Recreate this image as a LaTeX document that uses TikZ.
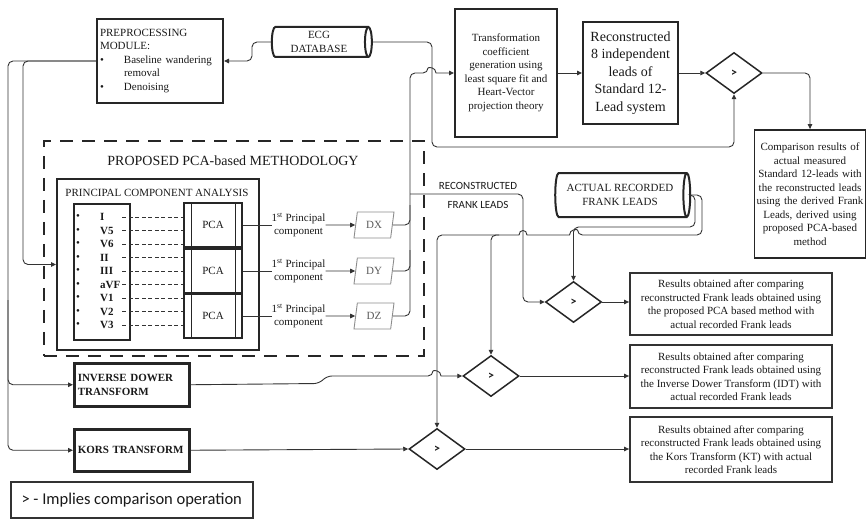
\documentclass[tikz,border=0pt]{standalone}
\usepackage{fontspec}
\setmainfont{Liberation Serif}
\newfontfamily\calib{Carlito}
\usetikzlibrary{shapes.geometric,arrows.meta}

\begin{document}
\begin{tikzpicture}[x=1pt,y=-1pt,
  every node/.style={font=\fontsize{11}{13.5}\selectfont, text=black!90, inner sep=2pt},
  conn/.style={draw=black!80, line width=0.9pt, rounded corners=5pt},
  arr/.style={-{Triangle[length=5pt,width=4.5pt]}},
  thickbox/.style={rectangle, draw=black!85, line width=2pt},
  resbox/.style={rectangle, draw=black!80, line width=1.8pt, minimum width=202pt, align=center},
  boldbox/.style={rectangle, draw=black!85, line width=2.5pt, minimum width=115pt,
    text width=108pt, align=left, anchor=north west, font=\bfseries\fontsize{11}{13.5}\selectfont},
  cyl/.style={cylinder, draw=black!85, line width=2pt, aspect=0.3, align=center, inner sep=1pt},
  dia/.style={diamond, draw=black!85, line width=1.5pt, minimum width=56pt, minimum height=41pt,
    aspect=1.37, inner sep=0pt, font=\calib\bfseries\fontsize{12}{12}\selectfont},
  pcab/.style={rectangle, draw=black!85, line width=1.3pt, minimum width=58pt, minimum height=44pt},
  pcl/.style={align=center, inner sep=0pt, font=\fontsize{11}{13}\selectfont},
  para/.style={trapezium, trapezium left angle=70, trapezium right angle=110,
    trapezium stretches body, draw=black!45, line width=0.9pt, text=black!65,
    minimum width=40pt, minimum height=26pt, inner sep=1pt},
  lead/.style={anchor=west, inner sep=0pt, text width=22pt, align=left,
    font=\bfseries\fontsize{11}{13.5}\selectfont},
  leaddash/.style={draw=black!80, line width=0.9pt, dash pattern=on 4pt off 2.5pt}
]
\useasboundingbox (0,0) rectangle (868,519);

% ---------- top row ----------
\node[thickbox, minimum width=126pt, minimum height=84pt, text width=120pt, align=left,
      anchor=north west, inner sep=3pt] (prep) at (96,18)
  {PREPROCESSING\\MODULE:\\\makebox[24pt][l]{\textbullet}Baseline wandering\\\hspace*{24pt}removal\\\makebox[24pt][l]{\textbullet}Denoising};

% for a cylinder lying on its side, minimum height is its length and minimum width its diameter
\node[cyl, minimum height=100pt, minimum width=30pt] (ecg) at (319,42) {ECG\\DATABASE};

\node[thickbox, minimum width=102pt, minimum height=128pt, align=center] (trans) at (506,73)
  {Transformation\\coefficient\\generation using\\least square fit and\\Heart-Vector\\projection theory};

\node[thickbox, minimum width=95pt, minimum height=101pt, align=center,
      font=\fontsize{14}{17.5}\selectfont] (recon) at (630.5,73)
  {Reconstructed\\8 independent\\leads of\\Standard 12-\\Lead system};

\node[dia] (dia0) at (734,73) {>};

\node[thickbox, line width=1.8pt, minimum width=111pt, minimum height=128pt, text width=108pt,
      align=center, inner sep=1pt] (comp) at (810,194)
  {Comparison results of\\actual measured\\Standard 12-leads with\\the reconstructed leads\\using the derived Frank\\Leads, derived using\\proposed PCA-based\\method};

% ---------- proposed methodology ----------
\node[rectangle, draw=black!85, line width=1.8pt, dash pattern=on 13pt off 9pt,
      minimum width=380pt, minimum height=215pt, anchor=north west] (meth) at (43,140) {};
\node[font=\fontsize{14}{16}\selectfont] (methT) at (233,161) {PROPOSED PCA-based METHODOLOGY};

\node[thickbox, minimum width=202pt, minimum height=171pt, anchor=north west] (pcabox) at (56,178) {};
\node (pcaT) at (157,193) {PRINCIPAL COMPONENT ANALYSIS};

\node[rectangle, draw=black!85, line width=1.5pt, minimum width=56pt, minimum height=136pt,
      anchor=north west] (leads) at (73,203) {};

\node[pcab] (p1) at (213,225) {PCA};
\node[pcab] (p2) at (213,271) {PCA};
\node[pcab] (p3) at (213,316) {PCA};
\foreach \p in {p1,p2,p3}{
  \draw[black!85, line width=1.3pt] ([xshift=8pt]\p.north west) -- ([xshift=8pt]\p.south west);
  \draw[black!85, line width=1.3pt] ([xshift=-7pt]\p.north east) -- ([xshift=-7pt]\p.south east);
}

\foreach \n/\t/\p [count=\i from 0] in {lI/I/p1, lVf/V5/p1, lVs/V6/p1, lII/II/p2, lIII/III/p2,
    laVF/aVF/p2, lVa/V1/p3, lVb/V2/p3, lVc/V3/p3}{
  \node[inner sep=0pt] (b\n) at (78,{217.3+13.5*\i}) {\textbullet};
  \node[lead] (\n) at (100,{217.3+13.5*\i}) {\t};
  \draw[leaddash] (\n.east) -- (\n.east -| \p.west);
}

\node[pcl] (pc1) at (298.5,225) {1\textsuperscript{st} Principal\\component};
\node[pcl] (pc2) at (298.5,271) {1\textsuperscript{st} Principal\\component};
\node[pcl] (pc3) at (298.5,316) {1\textsuperscript{st} Principal\\component};

\node[para] (dx) at (374,225) {DX};
\node[para] (dy) at (374,271) {DY};
\node[para] (dz) at (374,316) {DZ};

\draw[conn] (p1.east) -- (pc1.west);
\draw[conn] (p2.east) -- (pc2.west);
\draw[conn] (p3.east) -- (pc3.west);
\draw[conn,arr] (pc1.east) -- (dx.west);
\draw[conn,arr] (pc2.east) -- (dy.west);
\draw[conn,arr] (pc3.east) -- (dz.west);

% ---------- lower left boxes ----------
\node[boldbox, minimum height=43pt] (idt) at (73,362) {INVERSE DOWER\\TRANSFORM};
\node[boldbox, minimum height=42pt] (kors) at (73,428) {KORS TRANSFORM};

\node[rectangle, draw=black!80, line width=1.5pt, minimum width=242pt, minimum height=36pt,
      anchor=north west, font=\calib\fontsize{16.5}{18}\selectfont] (legend) at (10,481)
  {> - Implies comparison operation};

% ---------- frank-lead comparison ----------
\node[cyl, minimum height=135pt, minimum width=44pt] (act) at (620,195) {ACTUAL RECORDED\\FRANK LEADS};

\node[dia] (dia1) at (573.5,302) {>};
\node[dia] (idia) at (491,376) {>};
\node[dia] (kdia) at (437,449) {>};

\node[resbox, minimum height=62pt] (r1) at (731,304)
  {Results obtained after comparing\\reconstructed Frank leads obtained using\\the proposed PCA based method with\\actual recorded Frank leads};
\node[resbox, minimum height=63pt] (r2) at (731,376.5)
  {Results obtained after comparing\\reconstructed Frank leads obtained using\\the Inverse Dower Transform (IDT) with\\actual recorded Frank leads};
\node[resbox, minimum height=65pt] (r3) at (731,449.5)
  {Results obtained after comparing\\reconstructed Frank leads obtained using\\the Kors Transform (KT) with actual\\recorded Frank leads};

\node[font=\calib\fontsize{11}{12}\selectfont, inner sep=0pt] (rl1) at (478,186) {RECONSTRUCTED};
\node[font=\calib\fontsize{11}{12}\selectfont, inner sep=0pt] (rl2) at (478,205) {FRANK LEADS};

% ---------- junction and crossing points ----------
\coordinate (em) at (252,51);
\coordinate (e1) at (432,147);
\coordinate (tj) at (410,73);
\coordinate (tx) at (410,205);
\coordinate (ty) at (410,250);
\coordinate (rj) at (410,194);
\coordinate (rv) at (523,250);
\coordinate (a1) at (695,227);
\coordinate (b1) at (702,235);
\coordinate (bj) at (491,235);
\coordinate (tl) at (8,300);
\coordinate (tb) at (23,150);
\coordinate (j1) at (319,383.5);
\coordinate (j2) at (327,376);
\coordinate (hopA) at (432,73);
\coordinate (hopB) at (573.5,235);
\coordinate (hopC) at (523,235);
\coordinate (hopD) at (437,376);

% ---------- connectors ----------
\draw[conn,arr] (ecg.west) -| (em) |- (prep.east);
\draw[conn,arr] (ecg.east) -| (e1) -| (dia0.south);
\draw[conn,arr] (trans.east) -- (recon.west);
\draw[conn,arr] (recon.east) -- (dia0.west);
\draw[conn,arr] (dia0.east) -| (comp.north);

\draw[conn] (dx.east) -| (tx);
\draw[conn] (dy.east) -| (ty);
\draw[conn,arr] (dz.east) -| (tj) -- ([xshift=-4pt]hopA) [sharp corners]
  .. controls +(0,-6) and +(0,-6) .. ([xshift=4pt]hopA) -- (trans.west);

\draw[conn,arr] (rj) -| (rv) |- (dia1.west);

\draw[conn,arr] (prep.west) -| (tl) |- (kors.west);
\draw[conn,arr] (tl) |- (idt.west);
\draw[conn,arr] (prep.west) -| (tb) |- (pcabox.west);

\draw[conn,arr] (idt.east) -- (j1) -- (j2) -- ([xshift=-4pt]hopD) [sharp corners]
  .. controls +(0,-6) and +(0,-6) .. ([xshift=4pt]hopD) -- (idia.west);
\draw[conn,arr] (kors.east) -- (kdia.west);

\draw[conn,arr] (act.east) -| (a1) -| (dia1.north);
\draw[conn,arr] (act.east) -| (b1) -- ([xshift=4pt]hopB) [sharp corners]
  .. controls +(0,-6) and +(0,-6) .. ([xshift=-4pt]hopB) -- ([xshift=4pt]hopC)
  .. controls +(0,-6) and +(0,-6) .. ([xshift=-4pt]hopC) [rounded corners=5pt] -| (kdia.north);
\draw[conn,arr] ([xshift=8pt]bj) -| (idia.north);

\draw[conn,arr] (dia1.east) -- (dia1.east -| r1.west);
\draw[conn,arr] (idia.east) -- (idia.east -| r2.west);
\draw[conn,arr] (kdia.east) -- (kdia.east -| r3.west);

\end{tikzpicture}
\end{document}
